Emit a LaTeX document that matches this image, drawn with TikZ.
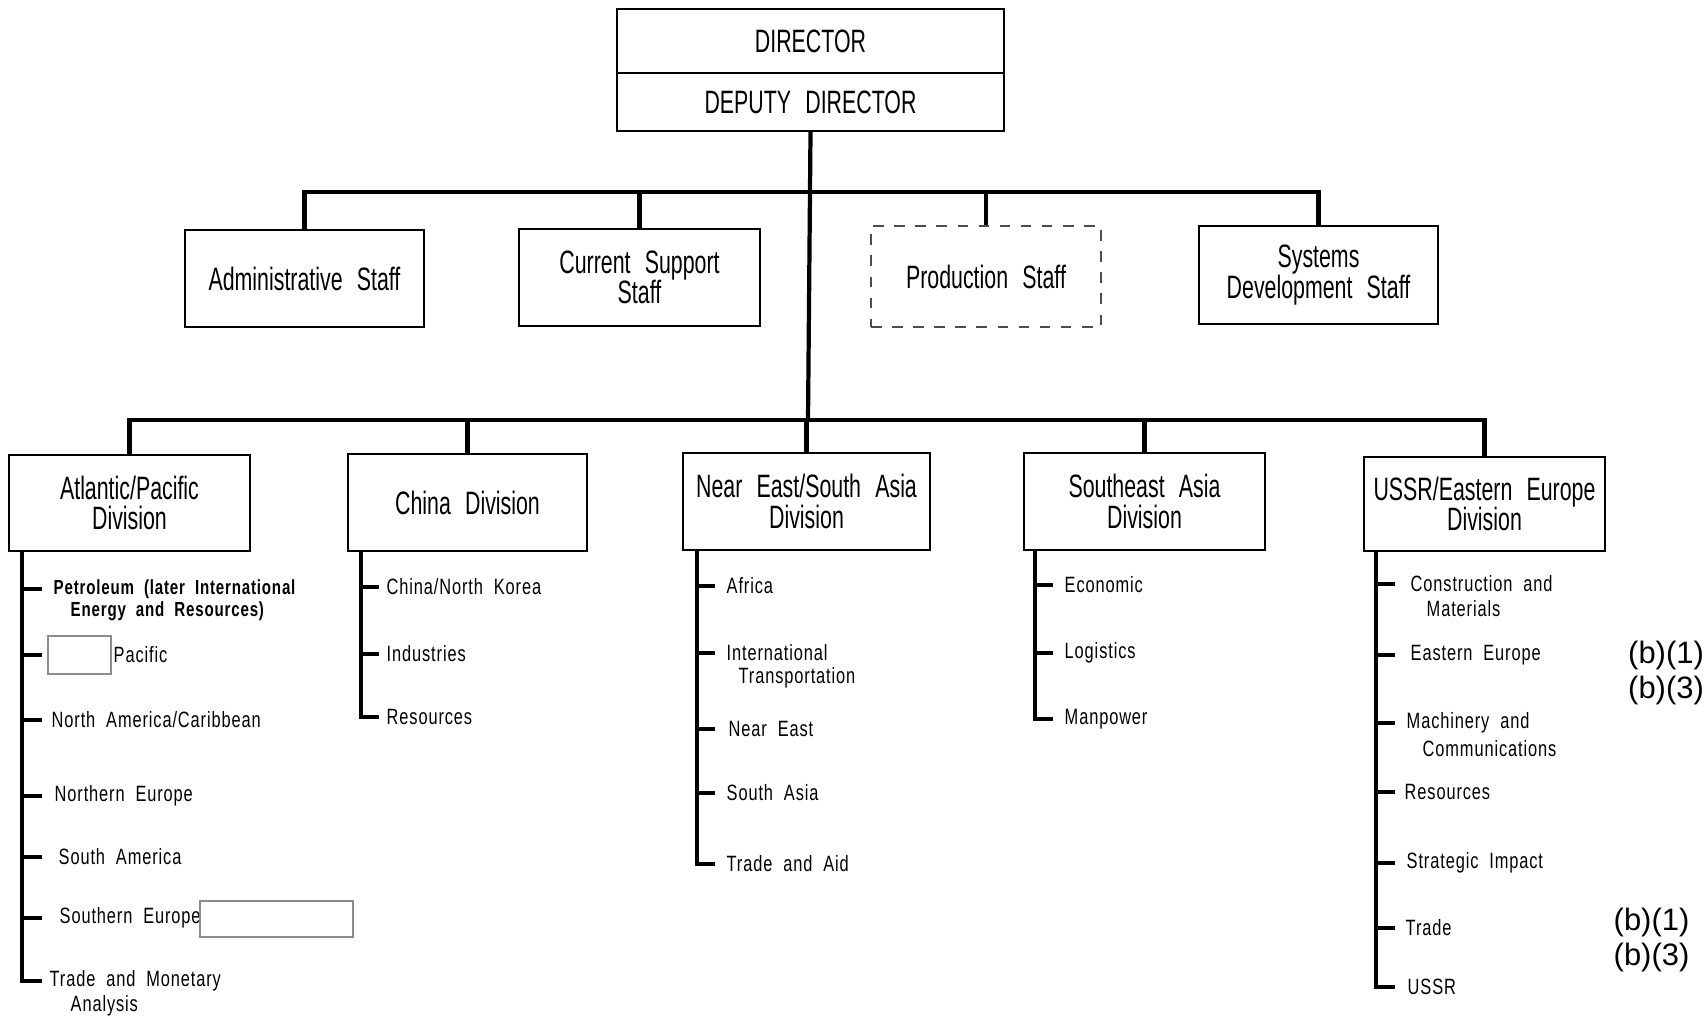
\documentclass[tikz,border=0pt]{standalone}
\usepackage{fontspec}
\setmainfont{Liberation Sans}[FakeStretch=0.66,WordSpace=2.4]
\newfontfamily\itemfont{Liberation Sans}[FakeStretch=0.74,LetterSpace=4,WordSpace=2]
\newfontfamily\notefont{Liberation Sans}
\usetikzlibrary{positioning}
\tikzset{
  unitbox/.style={draw, line width=0.5pt, inner sep=0pt, align=center,
    font=\fontsize{9.2}{8.6}\selectfont},
  dashbox/.style={unitbox, dashed, draw=black!70},
  blankbox/.style={draw=black!45, fill=white, line width=0.5pt, inner sep=0pt},
  link/.style={line width=1.2pt},
  tick/.style={line width=1pt},
  item/.style={anchor=west, inner sep=0pt, font=\itemfont\fontsize{6.3}{7.1}\selectfont},
  note/.style={inner sep=0pt, align=left, font=\notefont\fontsize{8.8}{10.2}\selectfont}
}
\begin{document}
\begin{tikzpicture}[x=0.01cm, y=-0.01cm]
\useasboundingbox[fill=white] (0,0) rectangle (1707,1018);

\node[unitbox, minimum width=3.87cm, minimum height=0.64cm] (dir) at (810.5,41) {DIRECTOR};
\node[unitbox, minimum width=3.87cm, minimum height=0.58cm] (dep) at (810.5,102) {DEPUTY DIRECTOR};

\node[unitbox, minimum width=2.39cm, minimum height=0.97cm] (adm) at (304.5,278.5) {Administrative Staff};
\node[unitbox, minimum width=2.41cm, minimum height=0.97cm] (cur) at (639.5,277.5) {Current Support\\Staff};
\node[dashbox, minimum width=2.30cm, minimum height=1.01cm] (prod) at (986,276.5) {Production Staff};
\node[unitbox, minimum width=2.39cm, minimum height=0.98cm] (sys) at (1318.5,275) {Systems\\Development Staff};

\node[unitbox, minimum width=2.41cm, minimum height=0.96cm] (atl) at (129.5,503) {Atlantic/Pacific\\Division};
\node[unitbox, minimum width=2.39cm, minimum height=0.97cm] (chn) at (467.5,502.5) {China Division};
\node[unitbox, minimum width=2.47cm, minimum height=0.97cm] (nesa) at (806.5,501.5) {Near East/South Asia\\Division};
\node[unitbox, minimum width=2.41cm, minimum height=0.97cm] (sea) at (1144.5,501.5) {Southeast Asia\\Division};
\node[unitbox, minimum width=2.41cm, minimum height=0.94cm] (ussr) at (1484.5,504) {USSR/Eastern Europe\\Division};

\coordinate (staffbar) at (808,192);
\coordinate (divbar) at (808,420);
\draw[link] (dep.south) -- (divbar);
\draw[link] (adm.north) |- (staffbar) -| (sys.north);
\draw[link] (cur.north) -- (cur.north |- staffbar);
\draw[link] (prod.north) -- (prod.north |- staffbar);
\draw[link] (atl.north) |- (divbar) -| (ussr.north);
\draw[link] (chn.north) -- (chn.north |- divbar);
\draw[link] (nesa.north) -- (nesa.north |- divbar);
\draw[link] (sea.north) -- (sea.north |- divbar);

\coordinate (atlspine) at (22,551);
\node[item, font=\itemfont\bfseries\fontsize{5.8}{6.4}\selectfont] (a1) at (53,589) {Petroleum (later International};
\node[item, font=\itemfont\bfseries\fontsize{5.8}{6.4}\selectfont] (a1b) at (70,611) {Energy and Resources)};
\node[blankbox, minimum width=0.63cm, minimum height=0.38cm] (a2box) at (79.5,655) {};
\node[item] (a2) at (113,655) {Pacific};
\node[item] (a3) at (51,720) {North America/Caribbean};
\node[item] (a4) at (54,796) {Northern Europe};
\node[item] (a5) at (58,857) {South America};
\node[item] (a6) at (59,918) {Southern Europe};
\node[blankbox, minimum width=1.53cm, minimum height=0.36cm] (a6box) at (276.5,919) {};
\node[item] (a7) at (49,981) {Trade and Monetary};
\node[item] (a7b) at (70,1006) {Analysis};
\draw[link] (atlspine) -- (atlspine |- a7) -- ++(20,0);
\foreach \n in {a1,a2,a3,a4,a5,a6}
  \draw[tick] (atlspine |- \n) -- ++(20,0);

\coordinate (chnspine) at (361,551);
\node[item] (c1) at (386,587) {China/North Korea};
\node[item] (c2) at (386,654) {Industries};
\node[item] (c3) at (386,717) {Resources};
\draw[link] (chnspine) -- (chnspine |- c3) -- ++(18,0);
\foreach \n in {c1,c2}
  \draw[tick] (chnspine |- \n) -- ++(18,0);

\coordinate (nesaspine) at (697,550);
\node[item] (n1) at (726,586) {Africa};
\node[item] (n2) at (726,653) {International};
\node[item] (n2b) at (738,678) {Transportation};
\node[item] (n3) at (728,729) {Near East};
\node[item] (n4) at (726,793) {South Asia};
\node[item] (n5) at (726,864) {Trade and Aid};
\draw[link] (nesaspine) -- (nesaspine |- n5) -- ++(18,0);
\foreach \n in {n1,n2,n3,n4}
  \draw[tick] (nesaspine |- \n) -- ++(18,0);

\coordinate (seaspine) at (1035,550);
\node[item] (s1) at (1064,585) {Economic};
\node[item] (s2) at (1064,653) {Logistics};
\node[item] (s3) at (1064,719) {Manpower};
\draw[link] (seaspine) -- (seaspine |- s3) -- ++(18,0);
\foreach \n in {s1,s2}
  \draw[tick] (seaspine |- \n) -- ++(18,0);

\coordinate (ussrspine) at (1376,551);
\node[item] (u1) at (1410,584) {Construction and};
\node[item] (u1b) at (1426,609) {Materials};
\node[item] (u2) at (1410,655) {Eastern Europe};
\node[item] (u3) at (1406,723) {Machinery and};
\node[item] (u3b) at (1422,749) {Communications};
\node[item] (u4) at (1404,792) {Resources};
\node[item] (u5) at (1406,863) {Strategic Impact};
\node[item] (u6) at (1405,928) {Trade};
\node[item] (u7) at (1407,987) {USSR};
\draw[link] (ussrspine) -- (ussrspine |- u7) -- ++(19,0);
\foreach \n in {u1,u2,u3,u4,u5,u6}
  \draw[tick] (ussrspine |- \n) -- ++(19,0);

\node[note] (note1) at (1666,673) {(b)(1)\\(b)(3)};
\node[note] (note2) at (1651.5,940) {(b)(1)\\(b)(3)};
\end{tikzpicture}
\end{document}
